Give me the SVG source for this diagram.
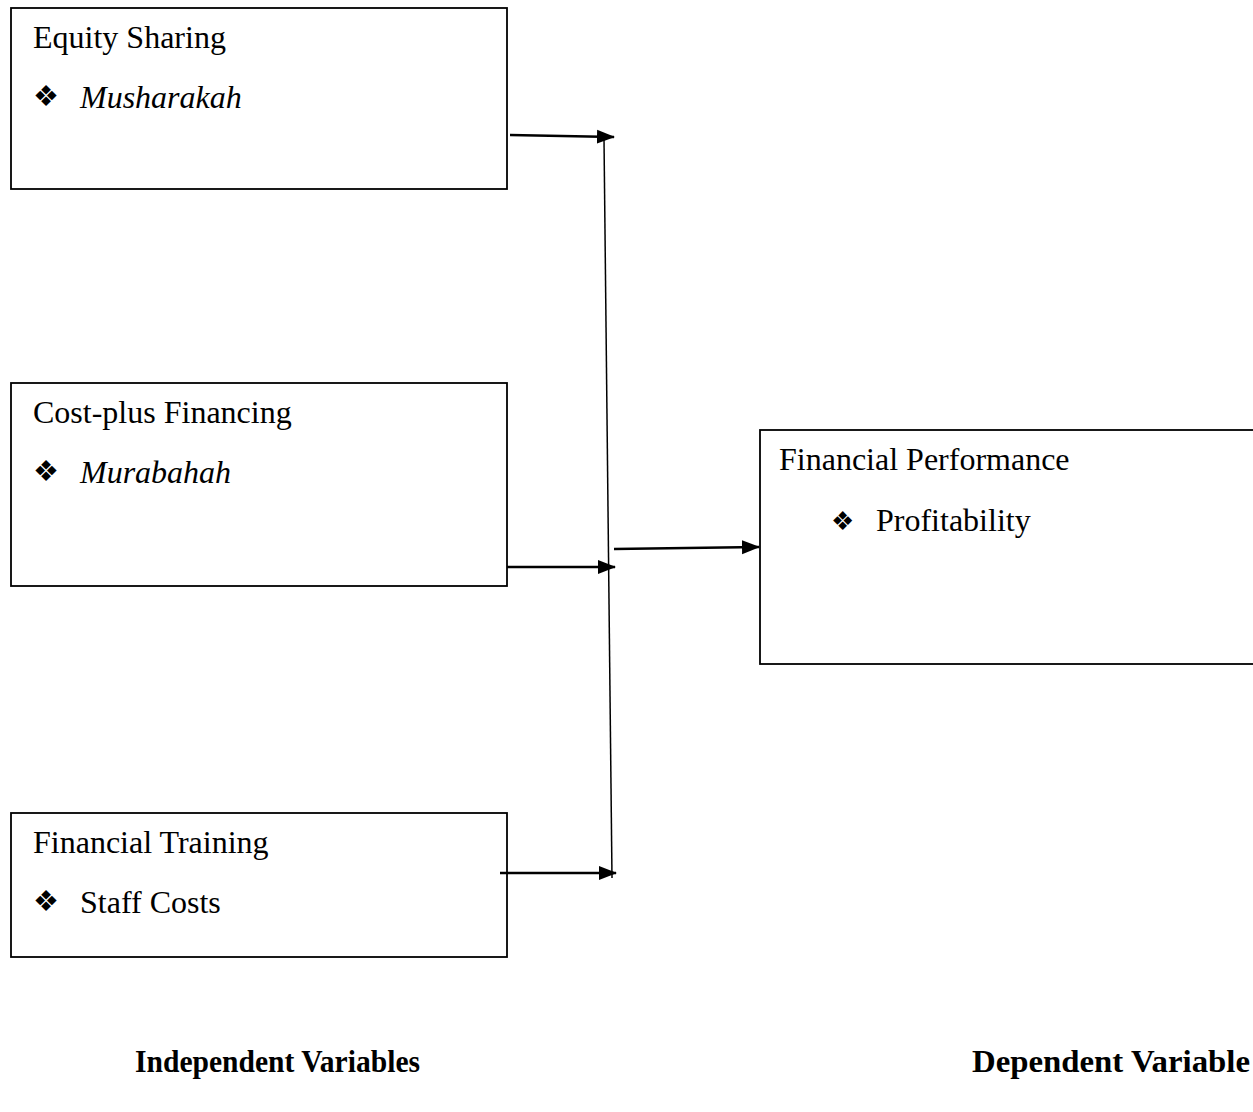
<svg xmlns="http://www.w3.org/2000/svg" width="1253" height="1112" viewBox="0 0 1253 1112">
<defs>
<style>
.box{fill:#fff;stroke:#000;stroke-width:1.8}
.t{font-family:"Liberation Serif","Times New Roman","DejaVu Serif",serif;font-size:32px;fill:#000}
.i{font-style:italic}
.b{font-weight:bold}
.bul{font-family:"DejaVu Sans",sans-serif;font-size:29px;fill:#000}
.arr{stroke:#000;stroke-width:2.6;fill:none}
.thin{stroke:#000;stroke-width:1.5;fill:none}
</style>
<marker id="ah" markerWidth="18" markerHeight="16" refX="17" refY="8" orient="auto" markerUnits="userSpaceOnUse">
<path d="M0,1 L18,8 L0,15 Z" fill="#000"/>
</marker>
</defs>
<rect width="1253" height="1112" fill="#fff"/>
<g id="equity">
<rect class="box" x="11" y="8" width="496" height="181"/>
<text class="t" x="33" y="48">Equity Sharing</text>
<text class="bul" x="33" y="106">❖</text>
<text class="t i" x="80" y="108">Musharakah</text>
</g>
<g id="costplus">
<rect class="box" x="11" y="383" width="496" height="203"/>
<text class="t" x="33" y="423">Cost-plus Financing</text>
<text class="bul" x="33" y="481">❖</text>
<text class="t i" x="80" y="483">Murabahah</text>
</g>
<g id="training">
<rect class="box" x="11" y="813" width="496" height="144"/>
<text class="t" x="33" y="853">Financial Training</text>
<text class="bul" x="33" y="911">❖</text>
<text class="t" x="80" y="913">Staff Costs</text>
</g>
<g id="performance">
<rect class="box" x="760" y="430" width="500" height="234"/>
<text class="t" x="779" y="470">Financial Performance</text>
<text class="bul" x="831" y="530" style="font-size:26px">❖</text>
<text class="t" x="876" y="531">Profitability</text>
</g>
<g id="connectors">
<line class="thin" x1="604" y1="139" x2="612" y2="878"/>
<line class="arr" x1="510" y1="135" x2="614" y2="137" marker-end="url(#ah)"/>
<line class="arr" x1="507" y1="567" x2="615" y2="567" marker-end="url(#ah)"/>
<line class="arr" x1="500" y1="873" x2="616" y2="873" marker-end="url(#ah)"/>
<line class="arr" x1="614" y1="549" x2="759" y2="547" marker-end="url(#ah)"/>
</g>
<g id="labels">
<text class="t b" x="135" y="1072" textLength="285" lengthAdjust="spacingAndGlyphs">Independent Variables</text>
<text class="t b" x="972" y="1072" textLength="278" lengthAdjust="spacingAndGlyphs">Dependent Variable</text>
</g>
</svg>
